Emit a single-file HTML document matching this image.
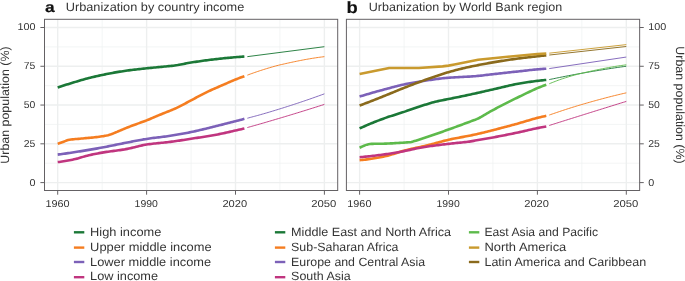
<!DOCTYPE html>
<html lang="en">
<head>
<meta charset="utf-8">
<title>Urbanization by country income and World Bank region</title>
<style>
html,body{margin:0;padding:0;background:#ffffff;}
body{width:685px;height:281px;overflow:hidden;font-family:"Liberation Sans",Arial,sans-serif;}
svg{display:block;}
</style>
</head>
<body>
<svg width="685" height="281" viewBox="0 0 685 281" font-family="'Liberation Sans', Arial, sans-serif" text-rendering="geometricPrecision">
<rect width="685" height="281" fill="#ffffff"/>
<g>
<line x1="44.50" x2="337.70" y1="163.21" y2="163.21" stroke="#eef0f0" stroke-width="0.7"/>
<line x1="44.50" x2="337.70" y1="124.44" y2="124.44" stroke="#eef0f0" stroke-width="0.7"/>
<line x1="44.50" x2="337.70" y1="85.66" y2="85.66" stroke="#eef0f0" stroke-width="0.7"/>
<line x1="44.50" x2="337.70" y1="46.89" y2="46.89" stroke="#eef0f0" stroke-width="0.7"/>
<line x1="102.15" x2="102.15" y1="19.30" y2="190.50" stroke="#eef0f0" stroke-width="0.7"/>
<line x1="191.05" x2="191.05" y1="19.30" y2="190.50" stroke="#eef0f0" stroke-width="0.7"/>
<line x1="279.95" x2="279.95" y1="19.30" y2="190.50" stroke="#eef0f0" stroke-width="0.7"/>
<line x1="44.50" x2="337.70" y1="182.60" y2="182.60" stroke="#edefef" stroke-width="1.4"/>
<line x1="44.50" x2="337.70" y1="143.82" y2="143.82" stroke="#edefef" stroke-width="1.4"/>
<line x1="44.50" x2="337.70" y1="105.05" y2="105.05" stroke="#edefef" stroke-width="1.4"/>
<line x1="44.50" x2="337.70" y1="66.28" y2="66.28" stroke="#edefef" stroke-width="1.4"/>
<line x1="44.50" x2="337.70" y1="27.50" y2="27.50" stroke="#edefef" stroke-width="1.4"/>
<line x1="57.70" x2="57.70" y1="19.30" y2="190.50" stroke="#edefef" stroke-width="1.4"/>
<line x1="146.60" x2="146.60" y1="19.30" y2="190.50" stroke="#edefef" stroke-width="1.4"/>
<line x1="235.50" x2="235.50" y1="19.30" y2="190.50" stroke="#edefef" stroke-width="1.4"/>
<line x1="324.40" x2="324.40" y1="19.30" y2="190.50" stroke="#edefef" stroke-width="1.4"/>
<polyline points="57.70,87.44 59.18,86.94 60.66,86.47 62.14,86.01 63.63,85.54 65.11,85.07 66.59,84.61 68.07,84.14 69.55,83.68 71.03,83.23 72.52,82.77 74.00,82.32 75.48,81.87 76.96,81.42 78.44,80.97 79.92,80.52 81.41,80.08 82.89,79.65 84.37,79.23 85.85,78.83 87.33,78.43 88.81,78.05 90.30,77.68 91.78,77.32 93.26,76.97 94.74,76.63 96.22,76.29 97.70,75.96 99.19,75.64 100.67,75.32 102.15,75.00 103.63,74.69 105.11,74.38 106.59,74.08 108.08,73.78 109.56,73.49 111.04,73.20 112.52,72.92 114.00,72.65 115.48,72.39 116.97,72.13 118.45,71.88 119.93,71.64 121.41,71.41 122.89,71.18 124.37,70.96 125.86,70.75 127.34,70.54 128.82,70.34 130.30,70.14 131.78,69.95 133.26,69.77 134.75,69.59 136.23,69.42 137.71,69.26 139.19,69.09 140.67,68.93 142.15,68.78 143.64,68.62 145.12,68.47 146.60,68.31 148.08,68.16 149.56,68.01 151.04,67.86 152.53,67.71 154.01,67.57 155.49,67.42 156.97,67.27 158.45,67.13 159.93,66.98 161.42,66.84 162.90,66.70 164.38,66.56 165.86,66.43 167.34,66.30 168.82,66.16 170.31,66.02 171.79,65.87 173.27,65.71 174.75,65.53 176.23,65.32 177.71,65.08 179.20,64.80 180.68,64.50 182.16,64.20 183.64,63.90 185.12,63.61 186.60,63.34 188.09,63.07 189.57,62.82 191.05,62.57 192.53,62.33 194.01,62.09 195.49,61.86 196.98,61.64 198.46,61.42 199.94,61.20 201.42,60.99 202.90,60.79 204.38,60.58 205.87,60.39 207.35,60.19 208.83,60.00 210.31,59.81 211.79,59.62 213.27,59.44 214.75,59.27 216.24,59.09 217.72,58.92 219.20,58.76 220.68,58.60 222.16,58.44 223.64,58.29 225.13,58.14 226.61,58.00 228.09,57.86 229.57,57.72 231.05,57.59 232.53,57.45 234.02,57.32 235.50,57.20 236.98,57.07 238.46,56.95 239.94,56.83 241.42,56.72 242.91,56.61 244.39,56.50" fill="none" stroke="#1b7837" stroke-width="2.6" stroke-linejoin="round"/>
<polyline points="57.70,143.89 59.18,143.32 60.66,142.78 62.14,142.24 63.63,141.69 65.11,141.14 66.59,140.59 68.07,140.11 69.55,139.75 71.03,139.51 72.52,139.34 74.00,139.20 75.48,139.07 76.96,138.95 78.44,138.83 79.92,138.70 81.41,138.57 82.89,138.43 84.37,138.30 85.85,138.17 87.33,138.04 88.81,137.90 90.30,137.76 91.78,137.61 93.26,137.46 94.74,137.31 96.22,137.14 97.70,136.97 99.19,136.78 100.67,136.57 102.15,136.34 103.63,136.10 105.11,135.82 106.59,135.51 108.08,135.15 109.56,134.73 111.04,134.24 112.52,133.70 114.00,133.12 115.48,132.52 116.97,131.91 118.45,131.26 119.93,130.61 121.41,129.97 122.89,129.34 124.37,128.74 125.86,128.14 127.34,127.55 128.82,126.97 130.30,126.40 131.78,125.83 133.26,125.26 134.75,124.71 136.23,124.17 137.71,123.64 139.19,123.11 140.67,122.59 142.15,122.06 143.64,121.52 145.12,120.97 146.60,120.39 148.08,119.80 149.56,119.18 151.04,118.55 152.53,117.91 154.01,117.27 155.49,116.63 156.97,116.00 158.45,115.38 159.93,114.77 161.42,114.17 162.90,113.58 164.38,112.99 165.86,112.41 167.34,111.82 168.82,111.23 170.31,110.63 171.79,110.01 173.27,109.38 174.75,108.74 176.23,108.07 177.71,107.38 179.20,106.65 180.68,105.90 182.16,105.13 183.64,104.34 185.12,103.54 186.60,102.74 188.09,101.93 189.57,101.14 191.05,100.35 192.53,99.57 194.01,98.79 195.49,98.01 196.98,97.22 198.46,96.44 199.94,95.66 201.42,94.88 202.90,94.11 204.38,93.36 205.87,92.61 207.35,91.88 208.83,91.17 210.31,90.47 211.79,89.79 213.27,89.13 214.75,88.47 216.24,87.83 217.72,87.19 219.20,86.55 220.68,85.92 222.16,85.28 223.64,84.64 225.13,83.99 226.61,83.33 228.09,82.67 229.57,82.02 231.05,81.37 232.53,80.74 234.02,80.12 235.50,79.52 236.98,78.94 238.46,78.37 239.94,77.82 241.42,77.28 242.91,76.77 244.39,76.24" fill="none" stroke="#f57d20" stroke-width="2.6" stroke-linejoin="round"/>
<polyline points="57.70,154.62 59.18,154.41 60.66,154.21 62.14,154.00 63.63,153.80 65.11,153.59 66.59,153.37 68.07,153.16 69.55,152.94 71.03,152.72 72.52,152.49 74.00,152.27 75.48,152.04 76.96,151.81 78.44,151.58 79.92,151.35 81.41,151.11 82.89,150.88 84.37,150.64 85.85,150.40 87.33,150.15 88.81,149.90 90.30,149.65 91.78,149.40 93.26,149.14 94.74,148.88 96.22,148.62 97.70,148.35 99.19,148.08 100.67,147.81 102.15,147.54 103.63,147.26 105.11,146.97 106.59,146.68 108.08,146.39 109.56,146.09 111.04,145.79 112.52,145.49 114.00,145.19 115.48,144.89 116.97,144.58 118.45,144.28 119.93,143.98 121.41,143.68 122.89,143.38 124.37,143.09 125.86,142.80 127.34,142.51 128.82,142.22 130.30,141.92 131.78,141.63 133.26,141.34 134.75,141.05 136.23,140.76 137.71,140.47 139.19,140.20 140.67,139.92 142.15,139.66 143.64,139.40 145.12,139.16 146.60,138.92 148.08,138.70 149.56,138.48 151.04,138.28 152.53,138.08 154.01,137.89 155.49,137.71 156.97,137.53 158.45,137.35 159.93,137.17 161.42,136.99 162.90,136.80 164.38,136.62 165.86,136.42 167.34,136.22 168.82,136.01 170.31,135.79 171.79,135.56 173.27,135.33 174.75,135.09 176.23,134.84 177.71,134.59 179.20,134.33 180.68,134.06 182.16,133.79 183.64,133.52 185.12,133.23 186.60,132.95 188.09,132.66 189.57,132.36 191.05,132.06 192.53,131.75 194.01,131.44 195.49,131.11 196.98,130.78 198.46,130.44 199.94,130.10 201.42,129.74 202.90,129.39 204.38,129.03 205.87,128.67 207.35,128.30 208.83,127.94 210.31,127.57 211.79,127.20 213.27,126.84 214.75,126.47 216.24,126.10 217.72,125.73 219.20,125.36 220.68,124.99 222.16,124.62 223.64,124.24 225.13,123.86 226.61,123.48 228.09,123.10 229.57,122.72 231.05,122.33 232.53,121.95 234.02,121.57 235.50,121.18 236.98,120.80 238.46,120.41 239.94,120.02 241.42,119.64 242.91,119.26 244.39,118.85" fill="none" stroke="#7c61b8" stroke-width="2.6" stroke-linejoin="round"/>
<polyline points="57.70,162.08 59.18,161.92 60.66,161.74 62.14,161.54 63.63,161.32 65.11,161.08 66.59,160.83 68.07,160.55 69.55,160.27 71.03,159.97 72.52,159.66 74.00,159.33 75.48,158.99 76.96,158.63 78.44,158.22 79.92,157.79 81.41,157.33 82.89,156.88 84.37,156.45 85.85,156.05 87.33,155.67 88.81,155.32 90.30,154.97 91.78,154.64 93.26,154.32 94.74,154.01 96.22,153.71 97.70,153.42 99.19,153.14 100.67,152.87 102.15,152.61 103.63,152.36 105.11,152.12 106.59,151.90 108.08,151.69 109.56,151.48 111.04,151.28 112.52,151.09 114.00,150.89 115.48,150.70 116.97,150.50 118.45,150.30 119.93,150.10 121.41,149.88 122.89,149.65 124.37,149.41 125.86,149.15 127.34,148.87 128.82,148.56 130.30,148.23 131.78,147.88 133.26,147.52 134.75,147.15 136.23,146.77 137.71,146.40 139.19,146.04 140.67,145.69 142.15,145.36 143.64,145.06 145.12,144.78 146.60,144.53 148.08,144.31 149.56,144.11 151.04,143.92 152.53,143.75 154.01,143.58 155.49,143.42 156.97,143.27 158.45,143.12 159.93,142.98 161.42,142.83 162.90,142.68 164.38,142.53 165.86,142.38 167.34,142.21 168.82,142.04 170.31,141.85 171.79,141.66 173.27,141.46 174.75,141.25 176.23,141.04 177.71,140.82 179.20,140.60 180.68,140.37 182.16,140.14 183.64,139.91 185.12,139.68 186.60,139.45 188.09,139.22 189.57,138.99 191.05,138.76 192.53,138.53 194.01,138.31 195.49,138.08 196.98,137.86 198.46,137.64 199.94,137.42 201.42,137.20 202.90,136.97 204.38,136.75 205.87,136.52 207.35,136.28 208.83,136.04 210.31,135.79 211.79,135.54 213.27,135.28 214.75,135.01 216.24,134.73 217.72,134.44 219.20,134.14 220.68,133.84 222.16,133.52 223.64,133.20 225.13,132.87 226.61,132.53 228.09,132.20 229.57,131.86 231.05,131.52 232.53,131.18 234.02,130.85 235.50,130.51 236.98,130.18 238.46,129.85 239.94,129.51 241.42,129.18 242.91,128.85 244.39,128.49" fill="none" stroke="#c0357f" stroke-width="2.6" stroke-linejoin="round"/>
<polyline points="247.35,56.65 324.40,46.70" fill="none" stroke="#1b7837" stroke-width="0.92" stroke-linejoin="round"/>
<polyline points="247.35,75.16 248.83,74.58 250.31,74.05 251.80,73.52 253.28,72.99 254.76,72.48 256.24,71.96 257.72,71.46 259.20,70.97 260.69,70.48 262.17,70.00 263.65,69.53 265.13,69.07 266.61,68.61 268.09,68.16 269.58,67.72 271.06,67.28 272.54,66.85 274.02,66.43 275.50,66.03 276.98,65.64 278.47,65.26 279.95,64.90 281.43,64.56 282.91,64.22 284.39,63.89 285.87,63.55 287.36,63.23 288.84,62.90 290.32,62.58 291.80,62.26 293.28,61.94 294.76,61.63 296.25,61.33 297.73,61.02 299.21,60.73 300.69,60.43 302.17,60.15 303.65,59.87 305.14,59.59 306.62,59.32 308.10,59.06 309.58,58.80 311.06,58.55 312.54,58.31 314.03,58.08 315.51,57.85 316.99,57.63 318.47,57.42 319.95,57.21 321.43,57.02 322.92,56.84 324.40,56.65" fill="none" stroke="#f57d20" stroke-width="0.92" stroke-linejoin="round"/>
<polyline points="247.35,118.23 248.83,117.82 250.31,117.43 251.80,117.04 253.28,116.64 254.76,116.24 256.24,115.84 257.72,115.43 259.20,115.02 260.69,114.60 262.17,114.18 263.65,113.76 265.13,113.33 266.61,112.90 268.09,112.47 269.58,112.03 271.06,111.58 272.54,111.14 274.02,110.69 275.50,110.23 276.98,109.78 278.47,109.32 279.95,108.87 281.43,108.40 282.91,107.94 284.39,107.47 285.87,107.00 287.36,106.53 288.84,106.06 290.32,105.58 291.80,105.10 293.28,104.62 294.76,104.14 296.25,103.65 297.73,103.16 299.21,102.66 300.69,102.17 302.17,101.67 303.65,101.17 305.14,100.66 306.62,100.15 308.10,99.64 309.58,99.13 311.06,98.61 312.54,98.09 314.03,97.57 315.51,97.04 316.99,96.51 318.47,95.98 319.95,95.44 321.43,94.91 322.92,94.39 324.40,93.82" fill="none" stroke="#7c61b8" stroke-width="0.92" stroke-linejoin="round"/>
<polyline points="247.35,127.56 248.83,127.12 250.31,126.72 251.80,126.31 253.28,125.89 254.76,125.47 256.24,125.05 257.72,124.63 259.20,124.21 260.69,123.78 262.17,123.36 263.65,122.93 265.13,122.50 266.61,122.07 268.09,121.64 269.58,121.20 271.06,120.76 272.54,120.33 274.02,119.89 275.50,119.45 276.98,119.01 278.47,118.57 279.95,118.13 281.43,117.68 282.91,117.24 284.39,116.80 285.87,116.35 287.36,115.90 288.84,115.46 290.32,115.01 291.80,114.56 293.28,114.11 294.76,113.66 296.25,113.20 297.73,112.75 299.21,112.30 300.69,111.84 302.17,111.38 303.65,110.93 305.14,110.47 306.62,110.01 308.10,109.55 309.58,109.08 311.06,108.62 312.54,108.15 314.03,107.69 315.51,107.22 316.99,106.75 318.47,106.28 319.95,105.81 321.43,105.35 322.92,104.89 324.40,104.39" fill="none" stroke="#c0357f" stroke-width="0.92" stroke-linejoin="round"/>
<rect x="44.50" y="19.30" width="293.20" height="171.20" fill="none" stroke="#646164" stroke-width="1"/>
<line x1="57.70" x2="57.70" y1="190.50" y2="194.70" stroke="#646164" stroke-width="1"/>
<text transform="translate(45.40 207.20) matrix(1 0.0004 0 1 0 0)" font-size="10" fill="#353535" textLength="24.15" lengthAdjust="spacingAndGlyphs">1960</text>
<line x1="146.60" x2="146.60" y1="190.50" y2="194.70" stroke="#646164" stroke-width="1"/>
<text transform="translate(134.60 207.20) matrix(1 0.0004 0 1 0 0)" font-size="10" fill="#353535" textLength="23.25" lengthAdjust="spacingAndGlyphs">1990</text>
<line x1="235.50" x2="235.50" y1="190.50" y2="194.70" stroke="#646164" stroke-width="1"/>
<text transform="translate(222.40 207.20) matrix(1 0.0004 0 1 0 0)" font-size="10" fill="#353535" textLength="24.65" lengthAdjust="spacingAndGlyphs">2020</text>
<line x1="324.40" x2="324.40" y1="190.50" y2="194.70" stroke="#646164" stroke-width="1"/>
<text transform="translate(311.30 207.20) matrix(1 0.0004 0 1 0 0)" font-size="10" fill="#353535" textLength="25.10" lengthAdjust="spacingAndGlyphs">2050</text>
<line x1="40.40" x2="44.50" y1="182.60" y2="182.60" stroke="#646164" stroke-width="1"/>
<text transform="translate(29.40 185.50) matrix(1 0.0004 0 1 0 0)" font-size="10" fill="#353535" textLength="6.00" lengthAdjust="spacingAndGlyphs">0</text>
<line x1="40.40" x2="44.50" y1="143.82" y2="143.82" stroke="#646164" stroke-width="1"/>
<text transform="translate(23.80 146.72) matrix(1 0.0004 0 1 0 0)" font-size="10" fill="#353535" textLength="11.60" lengthAdjust="spacingAndGlyphs">25</text>
<line x1="40.40" x2="44.50" y1="105.05" y2="105.05" stroke="#646164" stroke-width="1"/>
<text transform="translate(23.80 107.95) matrix(1 0.0004 0 1 0 0)" font-size="10" fill="#353535" textLength="11.60" lengthAdjust="spacingAndGlyphs">50</text>
<line x1="40.40" x2="44.50" y1="66.28" y2="66.28" stroke="#646164" stroke-width="1"/>
<text transform="translate(23.80 69.18) matrix(1 0.0004 0 1 0 0)" font-size="10" fill="#353535" textLength="11.60" lengthAdjust="spacingAndGlyphs">75</text>
<line x1="40.40" x2="44.50" y1="27.50" y2="27.50" stroke="#646164" stroke-width="1"/>
<text transform="translate(17.40 30.40) matrix(1 0.0004 0 1 0 0)" font-size="10" fill="#353535" textLength="18.00" lengthAdjust="spacingAndGlyphs">100</text>
</g>
<g>
<line x1="346.40" x2="639.65" y1="163.21" y2="163.21" stroke="#eef0f0" stroke-width="0.7"/>
<line x1="346.40" x2="639.65" y1="124.44" y2="124.44" stroke="#eef0f0" stroke-width="0.7"/>
<line x1="346.40" x2="639.65" y1="85.66" y2="85.66" stroke="#eef0f0" stroke-width="0.7"/>
<line x1="346.40" x2="639.65" y1="46.89" y2="46.89" stroke="#eef0f0" stroke-width="0.7"/>
<line x1="404.05" x2="404.05" y1="19.30" y2="190.50" stroke="#eef0f0" stroke-width="0.7"/>
<line x1="492.95" x2="492.95" y1="19.30" y2="190.50" stroke="#eef0f0" stroke-width="0.7"/>
<line x1="581.85" x2="581.85" y1="19.30" y2="190.50" stroke="#eef0f0" stroke-width="0.7"/>
<line x1="346.40" x2="639.65" y1="182.60" y2="182.60" stroke="#edefef" stroke-width="1.4"/>
<line x1="346.40" x2="639.65" y1="143.82" y2="143.82" stroke="#edefef" stroke-width="1.4"/>
<line x1="346.40" x2="639.65" y1="105.05" y2="105.05" stroke="#edefef" stroke-width="1.4"/>
<line x1="346.40" x2="639.65" y1="66.28" y2="66.28" stroke="#edefef" stroke-width="1.4"/>
<line x1="346.40" x2="639.65" y1="27.50" y2="27.50" stroke="#edefef" stroke-width="1.4"/>
<line x1="359.60" x2="359.60" y1="19.30" y2="190.50" stroke="#edefef" stroke-width="1.4"/>
<line x1="448.50" x2="448.50" y1="19.30" y2="190.50" stroke="#edefef" stroke-width="1.4"/>
<line x1="537.40" x2="537.40" y1="19.30" y2="190.50" stroke="#edefef" stroke-width="1.4"/>
<line x1="626.30" x2="626.30" y1="19.30" y2="190.50" stroke="#edefef" stroke-width="1.4"/>
<polyline points="359.60,128.44 361.08,127.73 362.56,127.09 364.04,126.44 365.53,125.80 367.01,125.16 368.49,124.53 369.97,123.90 371.45,123.29 372.93,122.68 374.42,122.08 375.90,121.49 377.38,120.91 378.86,120.34 380.34,119.77 381.82,119.22 383.31,118.67 384.79,118.14 386.27,117.61 387.75,117.10 389.23,116.60 390.71,116.12 392.20,115.64 393.68,115.17 395.16,114.70 396.64,114.24 398.12,113.78 399.60,113.31 401.09,112.84 402.57,112.35 404.05,111.86 405.53,111.36 407.01,110.85 408.49,110.34 409.98,109.82 411.46,109.29 412.94,108.77 414.42,108.25 415.90,107.74 417.38,107.24 418.87,106.75 420.35,106.27 421.83,105.79 423.31,105.32 424.79,104.85 426.27,104.39 427.76,103.93 429.24,103.48 430.72,103.05 432.20,102.62 433.68,102.22 435.16,101.83 436.65,101.46 438.13,101.11 439.61,100.79 441.09,100.48 442.57,100.19 444.05,99.90 445.54,99.62 447.02,99.33 448.50,99.04 449.98,98.74 451.46,98.44 452.94,98.14 454.43,97.83 455.91,97.53 457.39,97.22 458.87,96.92 460.35,96.61 461.83,96.30 463.32,95.99 464.80,95.68 466.28,95.36 467.76,95.05 469.24,94.73 470.72,94.41 472.21,94.09 473.69,93.77 475.17,93.45 476.65,93.12 478.13,92.79 479.61,92.45 481.10,92.12 482.58,91.78 484.06,91.44 485.54,91.10 487.02,90.76 488.50,90.42 489.99,90.08 491.47,89.74 492.95,89.40 494.43,89.06 495.91,88.72 497.39,88.37 498.88,88.03 500.36,87.67 501.84,87.32 503.32,86.97 504.80,86.62 506.28,86.27 507.76,85.93 509.25,85.60 510.73,85.27 512.21,84.95 513.69,84.64 515.17,84.34 516.65,84.05 518.14,83.77 519.62,83.50 521.10,83.25 522.58,83.00 524.06,82.75 525.54,82.51 527.03,82.28 528.51,82.06 529.99,81.84 531.47,81.63 532.95,81.43 534.43,81.23 535.92,81.04 537.40,80.86 538.88,80.69 540.36,80.52 541.84,80.36 543.32,80.21 544.81,80.06 546.29,79.92" fill="none" stroke="#1b7837" stroke-width="2.6" stroke-linejoin="round"/>
<polyline points="359.60,160.16 361.08,160.04 362.56,159.90 364.04,159.75 365.53,159.59 367.01,159.40 368.49,159.21 369.97,159.00 371.45,158.77 372.93,158.54 374.42,158.29 375.90,158.03 377.38,157.77 378.86,157.49 380.34,157.21 381.82,156.92 383.31,156.63 384.79,156.32 386.27,155.99 387.75,155.63 389.23,155.24 390.71,154.81 392.20,154.36 393.68,153.89 395.16,153.41 396.64,152.93 398.12,152.45 399.60,151.98 401.09,151.52 402.57,151.09 404.05,150.68 405.53,150.30 407.01,149.93 408.49,149.57 409.98,149.22 411.46,148.88 412.94,148.54 414.42,148.21 415.90,147.88 417.38,147.56 418.87,147.23 420.35,146.90 421.83,146.57 423.31,146.24 424.79,145.90 426.27,145.56 427.76,145.20 429.24,144.84 430.72,144.47 432.20,144.08 433.68,143.68 435.16,143.28 436.65,142.88 438.13,142.47 439.61,142.06 441.09,141.66 442.57,141.27 444.05,140.88 445.54,140.50 447.02,140.14 448.50,139.80 449.98,139.46 451.46,139.14 452.94,138.83 454.43,138.53 455.91,138.24 457.39,137.96 458.87,137.68 460.35,137.40 461.83,137.12 463.32,136.85 464.80,136.57 466.28,136.29 467.76,136.01 469.24,135.72 470.72,135.43 472.21,135.13 473.69,134.82 475.17,134.50 476.65,134.16 478.13,133.82 479.61,133.48 481.10,133.12 482.58,132.76 484.06,132.40 485.54,132.03 487.02,131.65 488.50,131.28 489.99,130.90 491.47,130.52 492.95,130.15 494.43,129.77 495.91,129.39 497.39,129.01 498.88,128.63 500.36,128.24 501.84,127.86 503.32,127.47 504.80,127.08 506.28,126.69 507.76,126.29 509.25,125.89 510.73,125.50 512.21,125.10 513.69,124.69 515.17,124.29 516.65,123.88 518.14,123.47 519.62,123.05 521.10,122.62 522.58,122.18 524.06,121.74 525.54,121.29 527.03,120.84 528.51,120.39 529.99,119.94 531.47,119.50 532.95,119.07 534.43,118.66 535.92,118.25 537.40,117.87 538.88,117.50 540.36,117.15 541.84,116.81 543.32,116.48 544.81,116.16 546.29,115.84" fill="none" stroke="#f57d20" stroke-width="2.6" stroke-linejoin="round"/>
<polyline points="359.60,96.56 361.08,96.09 362.56,95.65 364.04,95.22 365.53,94.78 367.01,94.34 368.49,93.91 369.97,93.47 371.45,93.05 372.93,92.62 374.42,92.20 375.90,91.78 377.38,91.36 378.86,90.95 380.34,90.54 381.82,90.14 383.31,89.73 384.79,89.33 386.27,88.93 387.75,88.53 389.23,88.13 390.71,87.73 392.20,87.34 393.68,86.95 395.16,86.56 396.64,86.18 398.12,85.81 399.60,85.45 401.09,85.10 402.57,84.77 404.05,84.44 405.53,84.13 407.01,83.82 408.49,83.53 409.98,83.24 411.46,82.96 412.94,82.68 414.42,82.42 415.90,82.16 417.38,81.91 418.87,81.67 420.35,81.43 421.83,81.20 423.31,80.97 424.79,80.74 426.27,80.51 427.76,80.29 429.24,80.07 430.72,79.85 432.20,79.64 433.68,79.43 435.16,79.23 436.65,79.03 438.13,78.84 439.61,78.66 441.09,78.48 442.57,78.32 444.05,78.16 445.54,78.01 447.02,77.88 448.50,77.75 449.98,77.64 451.46,77.53 452.94,77.44 454.43,77.35 455.91,77.26 457.39,77.18 458.87,77.11 460.35,77.03 461.83,76.96 463.32,76.89 464.80,76.82 466.28,76.74 467.76,76.66 469.24,76.58 470.72,76.49 472.21,76.39 473.69,76.29 475.17,76.18 476.65,76.05 478.13,75.91 479.61,75.76 481.10,75.59 482.58,75.42 484.06,75.25 485.54,75.06 487.02,74.88 488.50,74.70 489.99,74.52 491.47,74.34 492.95,74.17 494.43,74.00 495.91,73.84 497.39,73.68 498.88,73.51 500.36,73.35 501.84,73.19 503.32,73.03 504.80,72.87 506.28,72.71 507.76,72.55 509.25,72.39 510.73,72.23 512.21,72.07 513.69,71.91 515.17,71.75 516.65,71.59 518.14,71.43 519.62,71.27 521.10,71.10 522.58,70.93 524.06,70.76 525.54,70.59 527.03,70.42 528.51,70.25 529.99,70.08 531.47,69.92 532.95,69.77 534.43,69.62 535.92,69.48 537.40,69.35 538.88,69.23 540.36,69.12 541.84,69.01 543.32,68.91 544.81,68.82 546.29,68.72" fill="none" stroke="#7c61b8" stroke-width="2.6" stroke-linejoin="round"/>
<polyline points="359.60,157.20 361.08,157.07 362.56,156.94 364.04,156.81 365.53,156.66 367.01,156.52 368.49,156.36 369.97,156.20 371.45,156.04 372.93,155.87 374.42,155.69 375.90,155.51 377.38,155.33 378.86,155.15 380.34,154.96 381.82,154.76 383.31,154.56 384.79,154.36 386.27,154.15 387.75,153.94 389.23,153.72 390.71,153.49 392.20,153.25 393.68,153.00 395.16,152.75 396.64,152.49 398.12,152.23 399.60,151.96 401.09,151.69 402.57,151.41 404.05,151.13 405.53,150.83 407.01,150.52 408.49,150.20 409.98,149.87 411.46,149.53 412.94,149.19 414.42,148.86 415.90,148.54 417.38,148.24 418.87,147.95 420.35,147.68 421.83,147.43 423.31,147.19 424.79,146.95 426.27,146.73 427.76,146.51 429.24,146.29 430.72,146.08 432.20,145.88 433.68,145.68 435.16,145.48 436.65,145.29 438.13,145.10 439.61,144.91 441.09,144.73 442.57,144.55 444.05,144.37 445.54,144.19 447.02,144.01 448.50,143.84 449.98,143.67 451.46,143.50 452.94,143.35 454.43,143.20 455.91,143.06 457.39,142.91 458.87,142.77 460.35,142.63 461.83,142.48 463.32,142.32 464.80,142.16 466.28,141.99 467.76,141.80 469.24,141.60 470.72,141.37 472.21,141.12 473.69,140.85 475.17,140.58 476.65,140.31 478.13,140.04 479.61,139.78 481.10,139.53 482.58,139.27 484.06,139.02 485.54,138.77 487.02,138.51 488.50,138.25 489.99,137.99 491.47,137.72 492.95,137.45 494.43,137.18 495.91,136.90 497.39,136.62 498.88,136.33 500.36,136.05 501.84,135.76 503.32,135.47 504.80,135.18 506.28,134.88 507.76,134.59 509.25,134.29 510.73,133.99 512.21,133.68 513.69,133.38 515.17,133.07 516.65,132.76 518.14,132.44 519.62,132.12 521.10,131.80 522.58,131.46 524.06,131.12 525.54,130.78 527.03,130.43 528.51,130.08 529.99,129.74 531.47,129.40 532.95,129.07 534.43,128.74 535.92,128.43 537.40,128.14 538.88,127.85 540.36,127.58 541.84,127.32 543.32,127.06 544.81,126.82 546.29,126.57" fill="none" stroke="#c0357f" stroke-width="2.6" stroke-linejoin="round"/>
<polyline points="359.60,147.72 361.08,147.02 362.56,146.34 364.04,145.70 365.53,145.13 367.01,144.64 368.49,144.26 369.97,144.01 371.45,143.90 372.93,143.86 374.42,143.82 375.90,143.80 377.38,143.78 378.86,143.76 380.34,143.75 381.82,143.72 383.31,143.70 384.79,143.66 386.27,143.61 387.75,143.55 389.23,143.49 390.71,143.42 392.20,143.34 393.68,143.25 395.16,143.17 396.64,143.07 398.12,142.98 399.60,142.88 401.09,142.78 402.57,142.68 404.05,142.59 405.53,142.50 407.01,142.41 408.49,142.31 409.98,142.18 411.46,141.98 412.94,141.57 414.42,141.10 415.90,140.65 417.38,140.19 418.87,139.72 420.35,139.25 421.83,138.78 423.31,138.30 424.79,137.81 426.27,137.32 427.76,136.83 429.24,136.33 430.72,135.83 432.20,135.33 433.68,134.82 435.16,134.30 436.65,133.78 438.13,133.25 439.61,132.72 441.09,132.19 442.57,131.66 444.05,131.13 445.54,130.59 447.02,130.06 448.50,129.52 449.98,128.99 451.46,128.46 452.94,127.92 454.43,127.39 455.91,126.85 457.39,126.31 458.87,125.77 460.35,125.23 461.83,124.69 463.32,124.14 464.80,123.59 466.28,123.04 467.76,122.49 469.24,121.93 470.72,121.37 472.21,120.83 473.69,120.29 475.17,119.73 476.65,119.13 478.13,118.48 479.61,117.74 481.10,116.91 482.58,116.04 484.06,115.15 485.54,114.29 487.02,113.44 488.50,112.59 489.99,111.74 491.47,110.91 492.95,110.09 494.43,109.29 495.91,108.50 497.39,107.72 498.88,106.94 500.36,106.18 501.84,105.42 503.32,104.66 504.80,103.91 506.28,103.16 507.76,102.41 509.25,101.67 510.73,100.93 512.21,100.18 513.69,99.45 515.17,98.71 516.65,97.98 518.14,97.25 519.62,96.52 521.10,95.80 522.58,95.08 524.06,94.37 525.54,93.66 527.03,92.95 528.51,92.25 529.99,91.54 531.47,90.84 532.95,90.14 534.43,89.46 535.92,88.80 537.40,88.16 538.88,87.55 540.36,86.95 541.84,86.37 543.32,85.81 544.81,85.27 546.29,84.74" fill="none" stroke="#5dba4b" stroke-width="2.6" stroke-linejoin="round"/>
<polyline points="359.60,105.58 361.08,104.99 362.56,104.44 364.04,103.88 365.53,103.31 367.01,102.74 368.49,102.17 369.97,101.59 371.45,101.01 372.93,100.44 374.42,99.85 375.90,99.27 377.38,98.69 378.86,98.10 380.34,97.51 381.82,96.93 383.31,96.33 384.79,95.74 386.27,95.14 387.75,94.54 389.23,93.93 390.71,93.32 392.20,92.71 393.68,92.09 395.16,91.48 396.64,90.86 398.12,90.25 399.60,89.64 401.09,89.04 402.57,88.45 404.05,87.86 405.53,87.27 407.01,86.70 408.49,86.12 409.98,85.55 411.46,84.99 412.94,84.42 414.42,83.87 415.90,83.31 417.38,82.77 418.87,82.22 420.35,81.68 421.83,81.15 423.31,80.62 424.79,80.10 426.27,79.57 427.76,79.06 429.24,78.54 430.72,78.03 432.20,77.53 433.68,77.02 435.16,76.52 436.65,76.02 438.13,75.52 439.61,75.02 441.09,74.52 442.57,74.03 444.05,73.54 445.54,73.07 447.02,72.61 448.50,72.16 449.98,71.73 451.46,71.31 452.94,70.89 454.43,70.49 455.91,70.10 457.39,69.72 458.87,69.34 460.35,68.97 461.83,68.62 463.32,68.27 464.80,67.93 466.28,67.59 467.76,67.27 469.24,66.95 470.72,66.64 472.21,66.34 473.69,66.04 475.17,65.74 476.65,65.44 478.13,65.15 479.61,64.85 481.10,64.56 482.58,64.27 484.06,63.98 485.54,63.70 487.02,63.42 488.50,63.14 489.99,62.87 491.47,62.61 492.95,62.35 494.43,62.10 495.91,61.86 497.39,61.61 498.88,61.37 500.36,61.13 501.84,60.90 503.32,60.67 504.80,60.44 506.28,60.22 507.76,59.99 509.25,59.78 510.73,59.56 512.21,59.35 513.69,59.14 515.17,58.94 516.65,58.74 518.14,58.54 519.62,58.35 521.10,58.16 522.58,57.98 524.06,57.80 525.54,57.62 527.03,57.45 528.51,57.28 529.99,57.11 531.47,56.94 532.95,56.77 534.43,56.61 535.92,56.45 537.40,56.29 538.88,56.12 540.36,55.97 541.84,55.81 543.32,55.66 544.81,55.51 546.29,55.35" fill="none" stroke="#8a6a1c" stroke-width="2.6" stroke-linejoin="round"/>
<polyline points="359.60,74.01 389.23,67.95 418.87,67.95 442.57,66.39 448.50,65.61 454.43,64.53 478.13,59.71 507.76,56.75 537.40,53.95 546.29,53.49" fill="none" stroke="#c99a2e" stroke-width="2.6" stroke-linejoin="round"/>
<polyline points="549.25,79.61 550.73,79.28 552.21,78.98 553.70,78.68 555.18,78.37 556.66,78.06 558.14,77.76 559.62,77.46 561.10,77.16 562.59,76.86 564.07,76.57 565.55,76.28 567.03,75.99 568.51,75.70 569.99,75.41 571.48,75.13 572.96,74.85 574.44,74.58 575.92,74.30 577.40,74.03 578.88,73.76 580.37,73.50 581.85,73.24 583.33,72.98 584.81,72.72 586.29,72.46 587.77,72.21 589.26,71.95 590.74,71.70 592.22,71.45 593.70,71.20 595.18,70.96 596.66,70.71 598.15,70.47 599.63,70.23 601.11,69.99 602.59,69.75 604.07,69.51 605.55,69.28 607.04,69.05 608.52,68.82 610.00,68.59 611.48,68.37 612.96,68.14 614.44,67.92 615.93,67.70 617.41,67.49 618.89,67.27 620.37,67.06 621.85,66.85 623.33,66.65 624.82,66.45 626.30,66.24" fill="none" stroke="#1b7837" stroke-width="0.92" stroke-linejoin="round"/>
<polyline points="549.25,115.06 550.73,114.52 552.21,114.02 553.70,113.52 555.18,113.01 556.66,112.50 558.14,112.00 559.62,111.50 561.10,111.01 562.59,110.51 564.07,110.02 565.55,109.54 567.03,109.06 568.51,108.58 569.99,108.11 571.48,107.64 572.96,107.18 574.44,106.72 575.92,106.26 577.40,105.81 578.88,105.37 580.37,104.93 581.85,104.49 583.33,104.06 584.81,103.63 586.29,103.21 587.77,102.78 589.26,102.36 590.74,101.94 592.22,101.53 593.70,101.11 595.18,100.70 596.66,100.29 598.15,99.89 599.63,99.49 601.11,99.09 602.59,98.69 604.07,98.30 605.55,97.91 607.04,97.52 608.52,97.14 610.00,96.76 611.48,96.39 612.96,96.01 614.44,95.64 615.93,95.28 617.41,94.92 618.89,94.56 620.37,94.21 621.85,93.86 623.33,93.51 624.82,93.18 626.30,92.83" fill="none" stroke="#f57d20" stroke-width="0.92" stroke-linejoin="round"/>
<polyline points="549.25,68.57 626.30,57.06" fill="none" stroke="#7c61b8" stroke-width="0.92" stroke-linejoin="round"/>
<polyline points="549.25,125.48 550.73,124.99 552.21,124.54 553.70,124.07 555.18,123.61 556.66,123.14 558.14,122.67 559.62,122.21 561.10,121.74 562.59,121.27 564.07,120.80 565.55,120.34 567.03,119.87 568.51,119.40 569.99,118.94 571.48,118.47 572.96,118.01 574.44,117.54 575.92,117.08 577.40,116.61 578.88,116.15 580.37,115.68 581.85,115.22 583.33,114.75 584.81,114.29 586.29,113.83 587.77,113.36 589.26,112.90 590.74,112.44 592.22,111.97 593.70,111.51 595.18,111.05 596.66,110.59 598.15,110.12 599.63,109.66 601.11,109.20 602.59,108.74 604.07,108.28 605.55,107.82 607.04,107.36 608.52,106.89 610.00,106.43 611.48,105.97 612.96,105.51 614.44,105.05 615.93,104.59 617.41,104.13 618.89,103.67 620.37,103.21 621.85,102.76 623.33,102.31 624.82,101.86 626.30,101.38" fill="none" stroke="#c0357f" stroke-width="0.92" stroke-linejoin="round"/>
<polyline points="549.25,83.81 550.73,83.16 552.21,82.57 553.70,81.99 555.18,81.41 556.66,80.84 558.14,80.28 559.62,79.74 561.10,79.22 562.59,78.71 564.07,78.22 565.55,77.75 567.03,77.28 568.51,76.83 569.99,76.38 571.48,75.95 572.96,75.53 574.44,75.12 575.92,74.72 577.40,74.33 578.88,73.96 580.37,73.59 581.85,73.24 583.33,72.89 584.81,72.55 586.29,72.22 587.77,71.88 589.26,71.55 590.74,71.22 592.22,70.89 593.70,70.57 595.18,70.25 596.66,69.94 598.15,69.63 599.63,69.33 601.11,69.03 602.59,68.73 604.07,68.44 605.55,68.15 607.04,67.88 608.52,67.60 610.00,67.33 611.48,67.07 612.96,66.82 614.44,66.57 615.93,66.33 617.41,66.09 618.89,65.86 620.37,65.65 621.85,65.43 623.33,65.23 624.82,65.03 626.30,64.84" fill="none" stroke="#5dba4b" stroke-width="0.92" stroke-linejoin="round"/>
<polyline points="549.25,55.04 626.30,46.49" fill="none" stroke="#8a6a1c" stroke-width="0.92" stroke-linejoin="round"/>
<polyline points="549.25,53.17 626.30,44.62" fill="none" stroke="#c99a2e" stroke-width="0.92" stroke-linejoin="round"/>
<rect x="346.40" y="19.30" width="293.25" height="171.20" fill="none" stroke="#646164" stroke-width="1"/>
<line x1="359.60" x2="359.60" y1="190.50" y2="194.70" stroke="#646164" stroke-width="1"/>
<text transform="translate(347.30 207.20) matrix(1 0.0004 0 1 0 0)" font-size="10" fill="#353535" textLength="24.15" lengthAdjust="spacingAndGlyphs">1960</text>
<line x1="448.50" x2="448.50" y1="190.50" y2="194.70" stroke="#646164" stroke-width="1"/>
<text transform="translate(436.50 207.20) matrix(1 0.0004 0 1 0 0)" font-size="10" fill="#353535" textLength="23.25" lengthAdjust="spacingAndGlyphs">1990</text>
<line x1="537.40" x2="537.40" y1="190.50" y2="194.70" stroke="#646164" stroke-width="1"/>
<text transform="translate(524.30 207.20) matrix(1 0.0004 0 1 0 0)" font-size="10" fill="#353535" textLength="24.65" lengthAdjust="spacingAndGlyphs">2020</text>
<line x1="626.30" x2="626.30" y1="190.50" y2="194.70" stroke="#646164" stroke-width="1"/>
<text transform="translate(613.20 207.20) matrix(1 0.0004 0 1 0 0)" font-size="10" fill="#353535" textLength="25.10" lengthAdjust="spacingAndGlyphs">2050</text>
<line x1="639.65" x2="643.75" y1="182.60" y2="182.60" stroke="#646164" stroke-width="1"/>
<text transform="translate(648.20 185.50) matrix(1 0.0004 0 1 0 0)" font-size="10" fill="#353535" textLength="6.00" lengthAdjust="spacingAndGlyphs">0</text>
<line x1="639.65" x2="643.75" y1="143.82" y2="143.82" stroke="#646164" stroke-width="1"/>
<text transform="translate(648.20 146.72) matrix(1 0.0004 0 1 0 0)" font-size="10" fill="#353535" textLength="11.60" lengthAdjust="spacingAndGlyphs">25</text>
<line x1="639.65" x2="643.75" y1="105.05" y2="105.05" stroke="#646164" stroke-width="1"/>
<text transform="translate(648.20 107.95) matrix(1 0.0004 0 1 0 0)" font-size="10" fill="#353535" textLength="11.60" lengthAdjust="spacingAndGlyphs">50</text>
<line x1="639.65" x2="643.75" y1="66.28" y2="66.28" stroke="#646164" stroke-width="1"/>
<text transform="translate(648.20 69.18) matrix(1 0.0004 0 1 0 0)" font-size="10" fill="#353535" textLength="11.60" lengthAdjust="spacingAndGlyphs">75</text>
<line x1="639.65" x2="643.75" y1="27.50" y2="27.50" stroke="#646164" stroke-width="1"/>
<text transform="translate(648.20 30.40) matrix(1 0.0004 0 1 0 0)" font-size="10" fill="#353535" textLength="18.00" lengthAdjust="spacingAndGlyphs">100</text>
</g>
<text transform="translate(44.90 12.30) matrix(1 0.0004 0 1 0 0)" font-size="14.6" fill="#111111" textLength="9.70" lengthAdjust="spacingAndGlyphs" font-weight="bold" stroke="#111111" stroke-width="0.15">a</text>
<text transform="translate(65.70 10.70) matrix(1 0.0004 0 1 0 0)" font-size="12" fill="#353535" textLength="178.60" lengthAdjust="spacingAndGlyphs">Urbanization by country income</text>
<text transform="translate(346.60 12.50) matrix(1 0.0004 0 1 0 0)" font-size="16.4" fill="#111111" textLength="11.20" lengthAdjust="spacingAndGlyphs" font-weight="bold" stroke="#111111" stroke-width="0.15">b</text>
<text transform="translate(368.80 10.70) matrix(1 0.0004 0 1 0 0)" font-size="12" fill="#353535" textLength="193.40" lengthAdjust="spacingAndGlyphs">Urbanization by World Bank region</text>
<text transform="translate(9.3,163.7) rotate(-90)" font-size="12" fill="#353535" textLength="117.3" lengthAdjust="spacingAndGlyphs">Urban population (%)</text>
<text transform="translate(675.6,46.3) rotate(90)" font-size="12" fill="#353535" textLength="117.4" lengthAdjust="spacingAndGlyphs">Urban population (%)</text>
<line x1="73.90" x2="84.30" y1="232.30" y2="232.30" stroke="#1b7837" stroke-width="2.4"/>
<text transform="translate(90.10 236.00) matrix(1 0.0004 0 1 0 0)" font-size="12" fill="#353535" textLength="71.20" lengthAdjust="spacingAndGlyphs">High income</text>
<line x1="73.90" x2="84.30" y1="247.60" y2="247.60" stroke="#f57d20" stroke-width="2.4"/>
<text transform="translate(90.10 251.30) matrix(1 0.0004 0 1 0 0)" font-size="12" fill="#353535" textLength="121.55" lengthAdjust="spacingAndGlyphs">Upper middle income</text>
<line x1="73.90" x2="84.30" y1="262.00" y2="262.00" stroke="#7c61b8" stroke-width="2.4"/>
<text transform="translate(90.10 265.90) matrix(1 0.0004 0 1 0 0)" font-size="12" fill="#353535" textLength="120.95" lengthAdjust="spacingAndGlyphs">Lower middle income</text>
<line x1="73.90" x2="84.30" y1="277.20" y2="277.20" stroke="#c0357f" stroke-width="2.4"/>
<text transform="translate(90.10 280.40) matrix(1 0.0004 0 1 0 0)" font-size="12" fill="#353535" textLength="67.95" lengthAdjust="spacingAndGlyphs">Low income</text>
<line x1="274.90" x2="285.30" y1="232.30" y2="232.30" stroke="#1b7837" stroke-width="2.4"/>
<text transform="translate(291.10 236.00) matrix(1 0.0004 0 1 0 0)" font-size="12" fill="#353535" textLength="160.00" lengthAdjust="spacingAndGlyphs">Middle East and North Africa</text>
<line x1="274.90" x2="285.30" y1="247.60" y2="247.60" stroke="#f57d20" stroke-width="2.4"/>
<text transform="translate(291.10 251.30) matrix(1 0.0004 0 1 0 0)" font-size="12" fill="#353535" textLength="107.40" lengthAdjust="spacingAndGlyphs">Sub-Saharan Africa</text>
<line x1="274.90" x2="285.30" y1="262.00" y2="262.00" stroke="#7c61b8" stroke-width="2.4"/>
<text transform="translate(291.10 265.90) matrix(1 0.0004 0 1 0 0)" font-size="12" fill="#353535" textLength="133.95" lengthAdjust="spacingAndGlyphs">Europe and Central Asia</text>
<line x1="274.90" x2="285.30" y1="277.20" y2="277.20" stroke="#c0357f" stroke-width="2.4"/>
<text transform="translate(291.10 280.40) matrix(1 0.0004 0 1 0 0)" font-size="12" fill="#353535" textLength="59.50" lengthAdjust="spacingAndGlyphs">South Asia</text>
<line x1="468.90" x2="479.30" y1="232.30" y2="232.30" stroke="#5dba4b" stroke-width="2.4"/>
<text transform="translate(484.40 236.00) matrix(1 0.0004 0 1 0 0)" font-size="12" fill="#353535" textLength="113.60" lengthAdjust="spacingAndGlyphs">East Asia and Pacific</text>
<line x1="468.90" x2="479.30" y1="247.60" y2="247.60" stroke="#c99a2e" stroke-width="2.4"/>
<text transform="translate(484.40 251.30) matrix(1 0.0004 0 1 0 0)" font-size="12" fill="#353535" textLength="81.90" lengthAdjust="spacingAndGlyphs">North America</text>
<line x1="468.90" x2="479.30" y1="262.00" y2="262.00" stroke="#8a6a1c" stroke-width="2.4"/>
<text transform="translate(484.40 265.90) matrix(1 0.0004 0 1 0 0)" font-size="12" fill="#353535" textLength="161.80" lengthAdjust="spacingAndGlyphs">Latin America and Caribbean</text>
</svg>
</body>
</html>
